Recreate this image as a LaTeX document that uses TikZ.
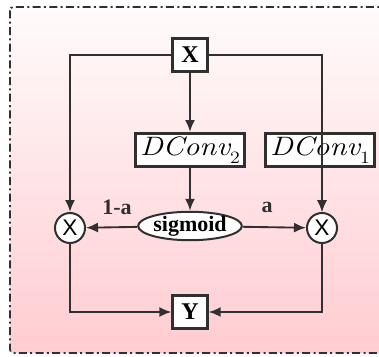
\documentclass[tikz,border=0pt]{standalone}
\usepackage{fontspec}
\setmainfont{Liberation Serif}
\newfontfamily\multfont{Liberation Sans}
\newfontfamily\convfont{Latin Modern Roman}
\usetikzlibrary{arrows.meta,positioning,shapes.geometric}
\definecolor{dcInk}{HTML}{303030}
\definecolor{dcTop}{HTML}{FFFBFB}
\definecolor{dcBottom}{HTML}{FFCCD1}
\newcommand{\dconv}[1]{\scalebox{1.15}[1]{{\convfont\itshape DConv}\raisebox{-0.28em}{\convfont\fontsize{13}{14}\selectfont #1}}}
\tikzset{
  dc frame/.style={draw=dcInk, line width=1.3pt, dash pattern=on 6pt off 2.5pt on 1.5pt off 2.5pt, rounded corners=2.5pt},
  dc box/.style={draw=dcInk, fill=white, line width=2pt, minimum width=26pt, minimum height=25pt, inner sep=2pt, font=\fontsize{18}{21}\selectfont\bfseries},
  dc conv/.style={dc box, minimum width=80pt, inner xsep=3.5pt, font=\fontsize{20}{23}\selectfont},
  dc mult/.style={circle, draw=dcInk, fill=white, line width=1.5pt, minimum size=22.5pt, inner sep=0pt, font=\multfont\fontsize{17}{20}\selectfont},
  dc sig/.style={ellipse, draw=dcInk, fill=white, line width=1.5pt, minimum width=76pt, minimum height=21pt, inner sep=0pt, font=\fontsize{16.5}{19}\selectfont\bfseries},
  dc line/.style={draw=dcInk, line width=1.4pt, -{Latex[length=9pt,width=7.5pt]}},
  dc label/.style={font=\fontsize{16.5}{19}\selectfont\bfseries, text=dcInk},
}

\begin{document}
\begin{tikzpicture}[x=0.75pt, y=-0.75pt]
  \useasboundingbox (0,0) rectangle (379,357);

  % Shaded frame, cut off at the right side
  \begin{scope}
    \clip (0,0) rectangle (379,357);
    \shade[top color=dcTop, bottom color=dcBottom, rounded corners=2.5pt] (10,7) rectangle (400,353);
    \draw[dc frame] (10,7) rectangle (400,353);
  \end{scope}

  % Blocks
  \node[dc box] (x) at (190,55) {X};
  \node[dc conv] (dconvB) at (190,150) {\dconv{2}};
  \node[dc conv] (dconvA) at (320,150) {\dconv{1}};
  \node[dc sig] (sig) at (190,226) {sigmoid};
  \node[dc mult] (multL) at (70,228) {X};
  \node[dc mult] (multR) at (322,228) {X};
  \node[dc box] (y) at (190,312) {Y};

  % Weights
  \node[dc label] (wL) at (117,207) {1-a};
  \node[dc label] (wR) at (267,207) {a};

  % Connectors
  \draw[dc line] (x.west) -| (multL.north);
  \draw[dc line] (x.east) -| (multR.north);
  \draw[dc line] (x) -- (dconvB);
  \draw[dc line] (dconvB) -- (sig);
  \draw[dc line] (dconvA.south -| multR.north) -- (multR);
  \draw[dc line] (sig) -- (multL);
  \draw[dc line] (sig) -- (multR);
  \draw[dc line] (multL) |- (y);
  \draw[dc line] (multR) |- (y);
\end{tikzpicture}
\end{document}
